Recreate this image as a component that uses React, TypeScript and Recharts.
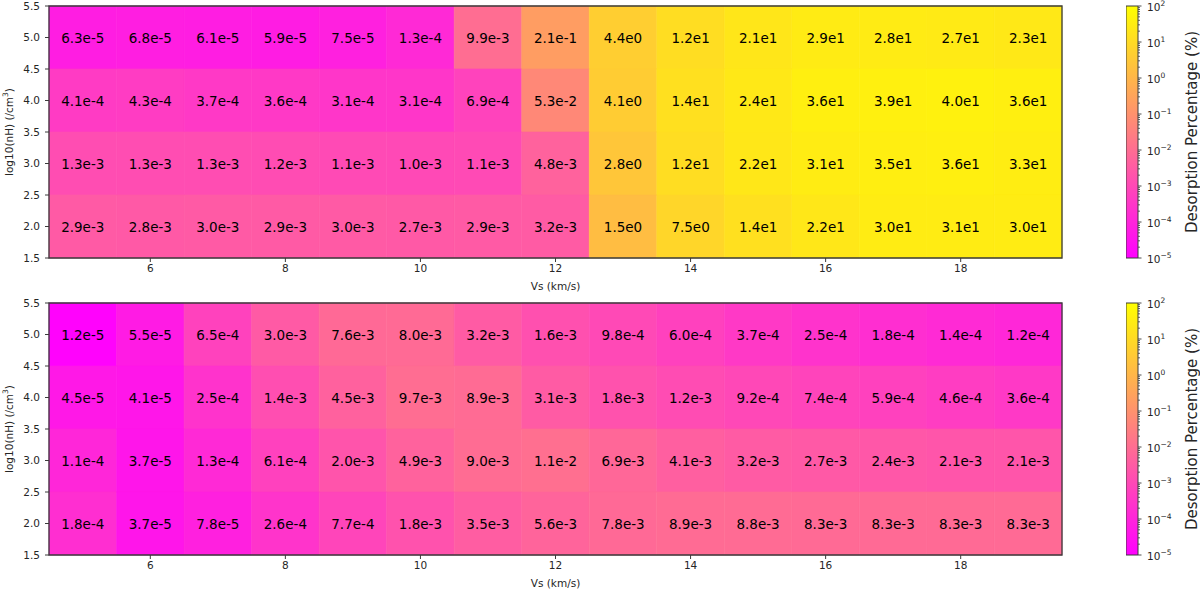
import React from 'react';
import { ComposedChart, Scatter, XAxis, YAxis, ReferenceArea, Label } from 'recharts';

// ---------- data ----------
const vsValues = [5, 6, 7, 8, 9, 10, 11, 12, 13, 14, 15, 16, 17, 18, 19];
const nhValues = [5.0, 4.0, 3.0, 2.0];

const topNh5 = [6.3e-5, 6.8e-5, 6.1e-5, 5.9e-5, 7.5e-5, 1.3e-4, 9.9e-3, 2.1e-1, 4.4e0, 1.2e1, 2.1e1, 2.9e1, 2.8e1, 2.7e1, 2.3e1];
const topNh4 = [4.1e-4, 4.3e-4, 3.7e-4, 3.6e-4, 3.1e-4, 3.1e-4, 6.9e-4, 5.3e-2, 4.1e0, 1.4e1, 2.4e1, 3.6e1, 3.9e1, 4.0e1, 3.6e1];
const topNh3 = [1.3e-3, 1.3e-3, 1.3e-3, 1.2e-3, 1.1e-3, 1.0e-3, 1.1e-3, 4.8e-3, 2.8e0, 1.2e1, 2.2e1, 3.1e1, 3.5e1, 3.6e1, 3.3e1];
const topNh2 = [2.9e-3, 2.8e-3, 3.0e-3, 2.9e-3, 3.0e-3, 2.7e-3, 2.9e-3, 3.2e-3, 1.5e0, 7.5e0, 1.4e1, 2.2e1, 3.0e1, 3.1e1, 3.0e1];

const botNh5 = [1.2e-5, 5.5e-5, 6.5e-4, 3.0e-3, 7.6e-3, 8.0e-3, 3.2e-3, 1.6e-3, 9.8e-4, 6.0e-4, 3.7e-4, 2.5e-4, 1.8e-4, 1.4e-4, 1.2e-4];
const botNh4 = [4.5e-5, 4.1e-5, 2.5e-4, 1.4e-3, 4.5e-3, 9.7e-3, 8.9e-3, 3.1e-3, 1.8e-3, 1.2e-3, 9.2e-4, 7.4e-4, 5.9e-4, 4.6e-4, 3.6e-4];
const botNh3 = [1.1e-4, 3.7e-5, 1.3e-4, 6.1e-4, 2.0e-3, 4.9e-3, 9.0e-3, 1.1e-2, 6.9e-3, 4.1e-3, 3.2e-3, 2.7e-3, 2.4e-3, 2.1e-3, 2.1e-3];
const botNh2 = [1.8e-4, 3.7e-5, 7.8e-5, 2.6e-4, 7.7e-4, 1.8e-3, 3.5e-3, 5.6e-3, 7.8e-3, 8.9e-3, 8.8e-3, 8.3e-3, 8.3e-3, 8.3e-3, 8.3e-3];

const xTicks = [6, 8, 10, 12, 14, 16, 18];
const yTicks = [1.5, 2.0, 2.5, 3.0, 3.5, 4.0, 4.5, 5.0, 5.5];
const cbarExponents = [-5, -4, -3, -2, -1, 0, 1, 2];
const cbarMinorMultipliers = [2, 3, 4, 5, 6, 7, 8, 9];

const LOG_MIN = -5;
const LOG_MAX = 2;

// ---------- helpers ----------
type Cell = { vs: number; nh: number; v: number };

function buildCells(rows: number[][]): Cell[] {
  const out: Cell[] = [];
  rows.forEach((row, i) => row.forEach((v, j) => out.push({ vs: vsValues[j], nh: nhValues[i], v })));
  return out;
}

const topCells = buildCells([topNh5, topNh4, topNh3, topNh2]);
const botCells = buildCells([botNh5, botNh4, botNh3, botNh2]);

function spring(v: number): string {
  let t = (Math.log10(v) - LOG_MIN) / (LOG_MAX - LOG_MIN);
  t = Math.max(0, Math.min(1, t));
  const g = Math.round(255 * t);
  const b = Math.round(255 * (1 - t));
  return `rgb(255,${g},${b})`;
}

function fmt(v: number): string {
  return v.toExponential(1).replace('+', '');
}

const cbarTicks: number[] = [];
cbarExponents.forEach((e) => {
  cbarTicks.push(Math.pow(10, e));
  if (e < LOG_MAX) cbarMinorMultipliers.forEach((m) => cbarTicks.push(m * Math.pow(10, e)));
});

const TEXT = '#262626';
const FRAME = '#3a3a3a';

// ---------- components ----------
function CellLabel(props: any) {
  const { cx, cy, payload } = props;
  if (cx == null || cy == null) return null;
  return (
    <text x={cx} y={cy} textAnchor="middle" dominantBaseline="central" fontSize={13.5} fill="#000">
      {fmt(payload.v)}
    </text>
  );
}

function Heatmap({ cells }: { cells: Cell[] }) {
  return (
    <ComposedChart width={1100} height={295} margin={{ top: 6, right: 38, bottom: 0, left: 0 }}>
      <XAxis
        dataKey="vs"
        type="number"
        domain={[4.5, 19.5]}
        ticks={xTicks}
        allowDataOverflow
        interval={0}
        height={37}
        tickSize={4}
        tickMargin={3}
        stroke={FRAME}
        axisLine={false}
        tick={{ fontSize: 10.5, fill: TEXT }}
      >
        <Label
          content={(p: any) => {
            const vb = p.viewBox || {};
            return (
              <text x={vb.x + vb.width / 2} y={vb.y + 32} textAnchor="middle" fontSize={10.5} fill={TEXT}>
                Vs (km/s)
              </text>
            );
          }}
        />
      </XAxis>
      <YAxis
        dataKey="nh"
        type="number"
        domain={[1.5, 5.5]}
        ticks={yTicks}
        allowDataOverflow
        interval={0}
        width={49}
        tickSize={4}
        tickMargin={5}
        stroke={FRAME}
        axisLine={false}
        tickFormatter={(v: number) => v.toFixed(1)}
        tick={{ fontSize: 10.5, fill: TEXT }}
      >
        <Label
          content={(p: any) => {
            const vb = p.viewBox || {};
            const x = vb.x + 9;
            const y = vb.y + vb.height / 2;
            return (
              <text
                x={x}
                y={y}
                transform={`rotate(-90, ${x}, ${y})`}
                textAnchor="middle"
                dominantBaseline="central"
                fontSize={10.5}
                fill={TEXT}
              >
                log10(nH) (/cm
                <tspan dy={-4} fontSize={7.5}>3</tspan>
                <tspan dy={4}>)</tspan>
              </text>
            );
          }}
        />
      </YAxis>
      {cells.map((c, i) => (
        <ReferenceArea
          key={`cell-${i}`}
          x1={c.vs - 0.5}
          x2={c.vs + 0.5}
          y1={c.nh - 0.5}
          y2={c.nh + 0.5}
          fill={spring(c.v)}
          fillOpacity={1}
          stroke={spring(c.v)}
          strokeWidth={0.6}
          ifOverflow="visible"
        />
      ))}
      <ReferenceArea x1={4.5} x2={19.5} y1={1.5} y2={5.5} fill="none" fillOpacity={0} stroke={FRAME} strokeWidth={1.3} ifOverflow="visible" />
      <Scatter data={cells} dataKey="nh" isAnimationActive={false} shape={<CellLabel />} />
    </ComposedChart>
  );
}

function CbarTick(props: any) {
  const { x, y, payload } = props;
  const v = payload.value as number;
  const lg = Math.log10(v);
  const major = Math.abs(lg - Math.round(lg)) < 1e-6;
  if (!major) {
    return <line x1={x} x2={x + 2} y1={y} y2={y} stroke={FRAME} strokeWidth={0.8} />;
  }
  const e = Math.round(lg);
  const expText = e < 0 ? `\u2212${-e}` : `${e}`;
  return (
    <g>
      <line x1={x} x2={x + 3.5} y1={y} y2={y} stroke={FRAME} strokeWidth={0.9} />
      <text x={x + 9} y={y + 1} dominantBaseline="central" fontSize={10.5} fill={TEXT}>
        10
        <tspan dy={-4} fontSize={7.5}>{expText}</tspan>
      </text>
    </g>
  );
}

function Colorbar({ gradId }: { gradId: string }) {
  return (
    <ComposedChart width={74} height={307} margin={{ top: 18, right: 2, bottom: 37, left: 0 }}>
      <XAxis type="number" dataKey="x" domain={[0, 1]} hide allowDataOverflow />
      <YAxis
        orientation="right"
        type="number"
        scale="log"
        domain={[1e-5, 100]}
        allowDataOverflow
        ticks={cbarTicks}
        interval={0}
        width={60}
        tickSize={0}
        tickMargin={0}
        axisLine={false}
        tickLine={false}
        tick={<CbarTick />}
      >
        <Label
          content={(p: any) => {
            const vb = p.viewBox || {};
            const x = vb.x + vb.width - 6;
            const y = vb.y + vb.height / 2;
            return (
              <text
                x={x}
                y={y}
                transform={`rotate(-90, ${x}, ${y})`}
                textAnchor="middle"
                dominantBaseline="central"
                fontSize={15}
                fill={TEXT}
              >
                Desorption Percentage (%)
              </text>
            );
          }}
        />
      </YAxis>
      <ReferenceArea
        x1={0}
        x2={1}
        y1={1e-5}
        y2={100}
        fill={`url(#${gradId})`}
        fillOpacity={1}
        stroke={FRAME}
        strokeWidth={1}
        ifOverflow="visible"
      />
    </ComposedChart>
  );
}

export default function App() {
  return (
    <div
      style={{
        position: 'absolute',
        left: 0,
        top: 0,
        width: 1200,
        height: 590,
        background: '#fff',
        fontFamily: '"DejaVu Sans", sans-serif',
        overflow: 'hidden',
      }}
    >
      <svg width={0} height={0} style={{ position: 'absolute' }}>
        <defs>
          <linearGradient id="springGradA" x1="0" y1="0" x2="0" y2="1">
            <stop offset="0" stopColor="#ffff00" />
            <stop offset="1" stopColor="#ff00ff" />
          </linearGradient>
          <linearGradient id="springGradB" x1="0" y1="0" x2="0" y2="1">
            <stop offset="0" stopColor="#ffff00" />
            <stop offset="1" stopColor="#ff00ff" />
          </linearGradient>
        </defs>
      </svg>
      <div style={{ position: 'absolute', left: 0, top: 0 }}>
        <Heatmap cells={topCells} />
      </div>
      <div style={{ position: 'absolute', left: 0, top: 297 }}>
        <Heatmap cells={botCells} />
      </div>
      <div style={{ position: 'absolute', left: 1126, top: -12 }}>
        <Colorbar gradId="springGradA" />
      </div>
      <div style={{ position: 'absolute', left: 1126, top: 285 }}>
        <Colorbar gradId="springGradB" />
      </div>
    </div>
  );
}
